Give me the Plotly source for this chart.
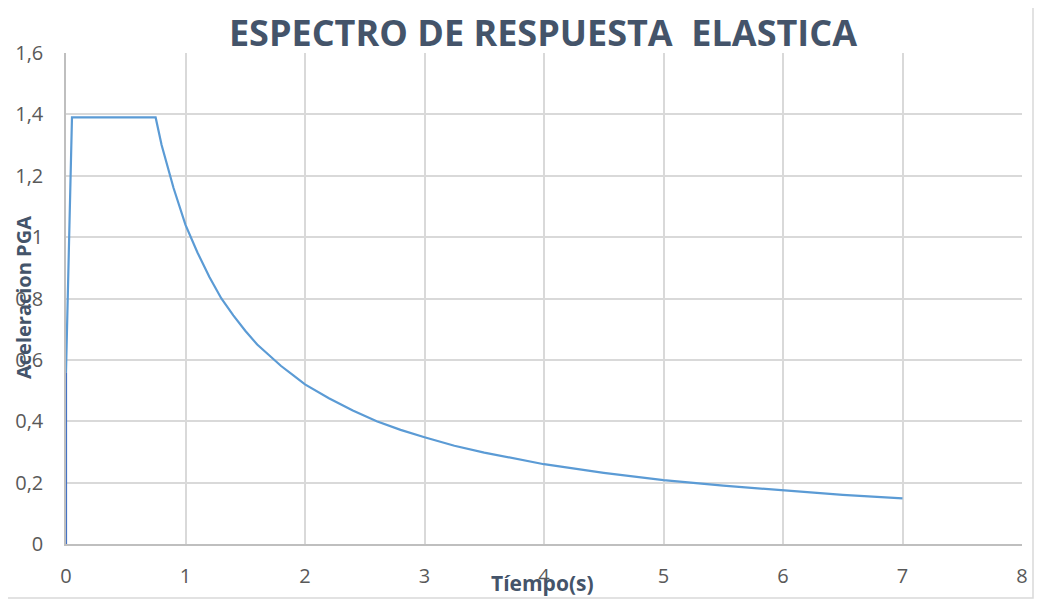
import plotly.graph_objects as go

# Data
periodo = [0.0, 0.05, 0.75, 0.8, 0.9, 1.0, 1.1, 1.2, 1.3, 1.4, 1.5, 1.6, 1.7, 1.8, 1.9, 2.0,
           2.2, 2.4, 2.6, 2.8, 3.0, 3.25, 3.5, 3.75, 4.0, 4.5, 5.0, 5.5, 6.0, 6.5, 7.0]
aceleracion = [0.56, 1.39, 1.39, 1.30, 1.16, 1.04, 0.95, 0.87, 0.80, 0.745, 0.695, 0.65, 0.615,
               0.58, 0.55, 0.52, 0.475, 0.435, 0.40, 0.372, 0.348, 0.32, 0.298, 0.278, 0.26,
               0.232, 0.208, 0.19, 0.174, 0.16, 0.149]
base_x = [0.0, 0.0]
base_y = [0.0, 0.56]

x_ticks = [0, 1, 2, 3, 4, 5, 6, 7, 8]
x_ticktext = ["0", "1", "2", "3", "4", "5", "6", "7", "8"]
y_ticks = [0, 0.2, 0.4, 0.6, 0.8, 1.0, 1.2, 1.4, 1.6]
y_ticktext = ["0", "0,2", "0,4", "0,6", "0,8", "1", "1,2", "1,4", "1,6"]

FONT = "Open Sans"
OFF = 8  # page body margin
W, H = 1044 - OFF, 601 - OFF
# absolute page pixel positions of the plot area
PX0, PX1, PY0, PY1 = 66, 1022, 53, 544
L, R, T, B = PX0 - OFF, (1044 - PX1), PY0 - OFF, (601 - PY1)
pw, ph = PX1 - PX0, PY1 - PY0


def px_x(ax):
    return (ax - PX0) / pw


def px_y(ay):
    return (PY1 - ay) / ph


fig = go.Figure()
fig.add_trace(go.Scatter(x=base_x, y=base_y, mode="lines",
                         line=dict(color="#4472C4", width=2.2), showlegend=False))
fig.add_trace(go.Scatter(x=periodo, y=aceleracion, mode="lines",
                         line=dict(color="#5B9BD5", width=2.2), showlegend=False))

fig.update_layout(
    width=W, height=H,
    margin=dict(l=L, r=R, t=T, b=B, autoexpand=False),
    paper_bgcolor="white", plot_bgcolor="white",
    font=dict(family=FONT, color="#595959", size=20),
    title=dict(text="<b>ESPECTRO DE RESPUESTA  ELASTICA</b>", x=px_x(543), xref="paper",
               xanchor="center", y=1 - (33 - OFF) / H, yanchor="middle",
               font=dict(family=FONT, size=36, color="#44546A")),
    xaxis=dict(range=[0, 8], tickvals=x_ticks, ticktext=x_ticktext, automargin=False,
               showgrid=True, gridcolor="#D9D9D9", gridwidth=1.5,
               showline=True, linecolor="#BFBFBF", linewidth=1.5,
               zeroline=False, ticks="", ticklabelstandoff=13,
               tickfont=dict(size=20, color="#595959")),
    yaxis=dict(range=[0, 1.6], tickvals=y_ticks, ticktext=y_ticktext, automargin=False,
               showgrid=True, gridcolor="#D9D9D9", gridwidth=1.5,
               showline=True, linecolor="#BFBFBF", linewidth=1.5,
               zeroline=False, ticks="", ticklabelstandoff=17,
               tickfont=dict(size=20, color="#595959")),
    annotations=[
        dict(text="<b>Tíempo(s)</b>", xref="paper", yref="paper",
             x=px_x(542), y=px_y(583), xanchor="center", yanchor="middle",
             showarrow=False, font=dict(family=FONT, size=21, color="#44546A")),
        dict(text="<b>Aceleracion PGA</b>", xref="paper", yref="paper",
             x=px_x(23), y=px_y(298), xanchor="center", yanchor="middle", textangle=-90,
             showarrow=False, font=dict(family=FONT, size=20, color="#44546A")),
    ],
    shapes=[dict(type="rect", xref="paper", yref="paper",
                 x0=px_x(3), x1=px_x(1033), y0=px_y(598), y1=px_y(3),
                 line=dict(color="#D9D9D9", width=1.5), fillcolor="rgba(0,0,0,0)", layer="below")],
)

fig.write_html("out.html")
